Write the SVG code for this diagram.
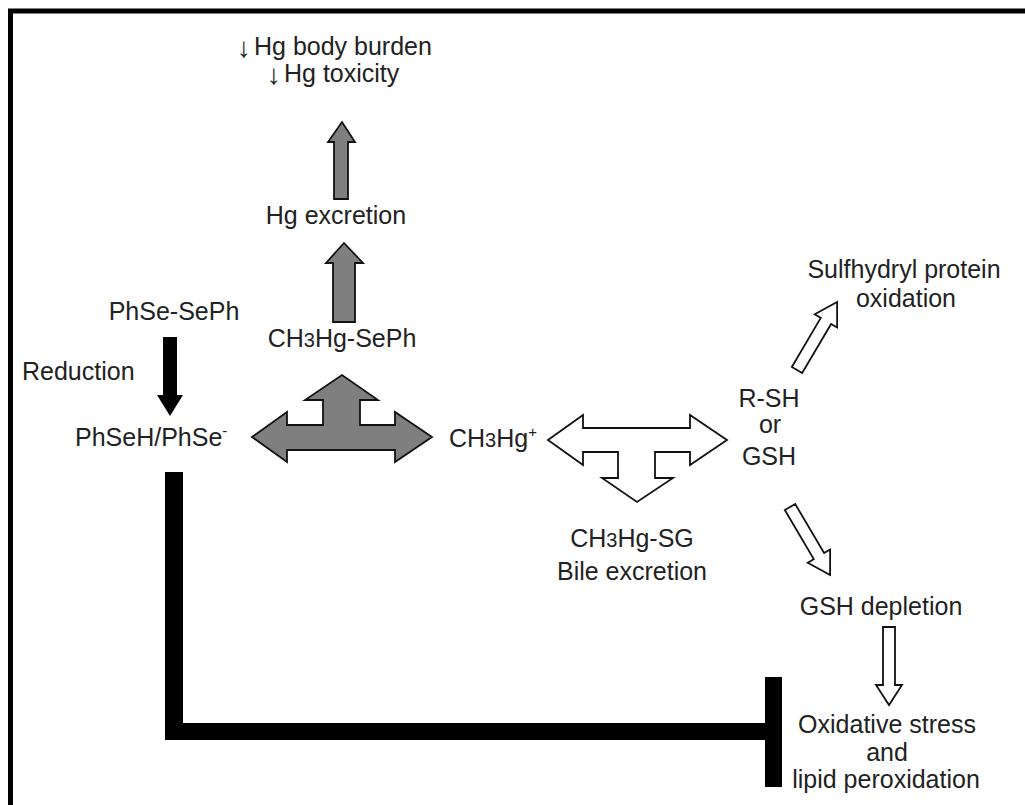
<svg xmlns="http://www.w3.org/2000/svg" width="1025" height="805" viewBox="0 0 1025 805">
<style>
.t{font-family:"Liberation Sans",Arial,sans-serif;font-size:25px;fill:#222}
.m{text-anchor:middle}
.ar{font-size:28px}
.gray{fill:#7f7f7f;stroke:#111;stroke-width:1.8;stroke-linejoin:miter}
.hollow{fill:#fff;stroke:#111;stroke-width:1.8;stroke-linejoin:miter}
.blk{fill:#000}
</style>
<rect width="1025" height="805" fill="#fff"/>
<path d="M10.5,805 V11 H1025" fill="none" stroke="#000" stroke-width="5"/>

<g id="connectors">
  <polygon class="gray" points="334,199 334,142 328,142 342,122 355,142 348,142 348,199"/>
  <polygon class="gray" points="333,322 333,263 326,263 344,243 363,263 355,263 355,322"/>
  <polygon class="blk" points="163,337 177,337 177,395 183,395 170,416 157,395 163,395"/>
  <polygon class="gray" points="252,437 287,412 287,425 323,425 323,400 305,400 342,375 378,400 360,400 360,425 395,425 395,412 432,437 395,462 395,450 287,450 287,462"/>
  <polygon class="hollow" points="548,440 583,415 583,428 690,428 690,415 727,440 690,465 690,452 655,452 655,478 673,478 637,502 602,478 618,478 618,452 583,452 583,465"/>
  <polygon class="hollow" transform="translate(797,370) rotate(-59.5)" points="0,-6 57,-6 57,-13 79,0 57,13 57,6 0,6"/>
  <polygon class="hollow" transform="translate(790,507) rotate(59.5)" points="0,-6 57,-6 57,-13 79,0 57,13 57,6 0,6"/>
  <polygon class="hollow" points="883,627 895,627 895,685 902,685 889,705 876,685 883,685"/>
  <polygon class="blk" points="165,472 183,472 183,723 765,723 765,677 782,677 782,787 765,787 765,740 165,740"/>
</g>

<g id="top-effects">
  <text class="t"><tspan class="ar" x="237" y="57" fill="#222">↓</tspan><tspan x="254" y="55">Hg body burden</tspan></text>
  <text class="t"><tspan class="ar" x="267" y="84" fill="#222">↓</tspan><tspan x="284" y="82">Hg toxicity</tspan></text>
</g>
<g id="hg-excretion"><text class="t m" x="336" y="224">Hg excretion</text></g>
<g id="ch3hg-seph"><text class="t m" x="342" y="347">CH<tspan font-size="20">3</tspan>Hg-SePh</text></g>
<g id="phse-seph"><text class="t m" x="174" y="320">PhSe-SePh</text></g>
<g id="reduction"><text class="t" x="22" y="380">Reduction</text></g>
<g id="phseh"><text class="t" x="75" y="446">PhSeH/PhSe<tspan font-size="15" dy="-10">-</tspan></text></g>
<g id="ch3hg"><text class="t" x="449" y="447">CH<tspan font-size="20">3</tspan>Hg<tspan font-size="15" dy="-10">+</tspan></text></g>
<g id="rsh-gsh">
  <text class="t m" x="769" y="407">R-SH</text>
  <text class="t m" x="770" y="433" font-size="18">or</text>
  <text class="t m" x="769" y="465">GSH</text>
</g>
<g id="sulfhydryl">
  <text class="t m" x="904" y="278">Sulfhydryl protein</text>
  <text class="t m" x="906" y="307">oxidation</text>
</g>
<g id="ch3hg-sg">
  <text class="t m" x="632" y="547">CH<tspan font-size="20">3</tspan>Hg-SG</text>
  <text class="t m" x="632" y="580">Bile excretion</text>
</g>
<g id="gsh-depletion"><text class="t m" x="881" y="615">GSH depletion</text></g>
<g id="oxidative-stress">
  <text class="t m" x="887" y="733">Oxidative stress</text>
  <text class="t m" x="887" y="761">and</text>
  <text class="t m" x="886" y="788">lipid peroxidation</text>
</g>
</svg>
